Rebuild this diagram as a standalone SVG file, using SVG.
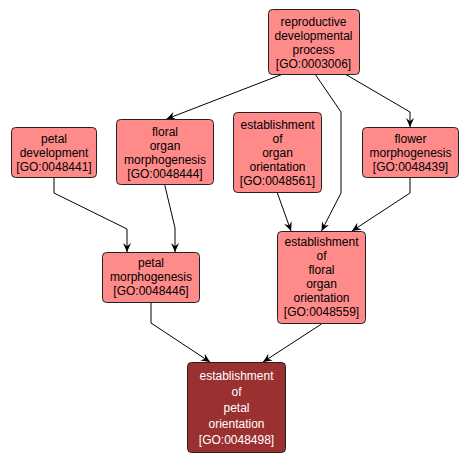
<svg xmlns="http://www.w3.org/2000/svg" width="469" height="463" viewBox="0 0 469 463">
<defs>
<style>
.n rect{fill:#ff8a8a;stroke:#222;stroke-width:1}
.n.d rect{fill:#9b3030}
.n text{font-family:"Liberation Sans",Arial,sans-serif;font-size:12px;text-anchor:middle;fill:#000}
.n.d text{fill:#fff}
.e path{fill:none;stroke:#000;stroke-width:1;marker-end:url(#a)}
</style>
<marker id="a" viewBox="0 0 10 10" refX="10" refY="5" markerWidth="9" markerHeight="9" markerUnits="userSpaceOnUse" orient="auto">
<path d="M0,0.5 L10,5 L0,9.5 L3.5,5 z" fill="#000"/>
</marker>
</defs>
<rect width="469" height="463" fill="#fff"/>
<g id="edges" class="e">
<path d="M283,74 L166.5,119"/>
<path d="M315,74 L341,112 L341,193 L321.5,231"/>
<path d="M345,74 L410,112 L410,127"/>
<path d="M410,177 L410,193 L352,231"/>
<path d="M277,192 L291,231"/>
<path d="M54,177 L54,193 L127,229 L127,252"/>
<path d="M164.5,184 L175,228 L175,252"/>
<path d="M151,302 L151,323 L210,362"/>
<path d="M321.5,324 L263,362"/>
</g>
<g id="GO0003006" class="n">
<rect x="268.5" y="9.5" width="91" height="65" rx="4"/>
<text x="313.5" y="26">reproductive</text>
<text x="313.5" y="40">developmental</text>
<text x="313.5" y="54">process</text>
<text x="313.5" y="68">[GO:0003006]</text>
</g>
<g id="GO0048444" class="n">
<rect x="116.5" y="119.5" width="97" height="65" rx="4"/>
<text x="165" y="136">floral</text>
<text x="165" y="150">organ</text>
<text x="165" y="164">morphogenesis</text>
<text x="165" y="178">[GO:0048444]</text>
</g>
<g id="GO0048561" class="n">
<rect x="233.5" y="112.5" width="88" height="80" rx="4"/>
<text x="277.5" y="129">establishment</text>
<text x="277.5" y="143">of</text>
<text x="277.5" y="157">organ</text>
<text x="277.5" y="171">orientation</text>
<text x="277.5" y="185">[GO:0048561]</text>
</g>
<g id="GO0048439" class="n">
<rect x="362.5" y="127.5" width="96" height="50" rx="4"/>
<text x="410.5" y="143">flower</text>
<text x="410.5" y="157">morphogenesis</text>
<text x="410.5" y="171">[GO:0048439]</text>
</g>
<g id="GO0048441" class="n">
<rect x="11.5" y="127.5" width="85" height="50" rx="4"/>
<text x="54" y="143">petal</text>
<text x="54" y="157">development</text>
<text x="54" y="171">[GO:0048441]</text>
</g>
<g id="GO0048559" class="n">
<rect x="277.5" y="231.5" width="88" height="92" rx="4"/>
<text x="321.5" y="246">establishment</text>
<text x="321.5" y="260">of</text>
<text x="321.5" y="274">floral</text>
<text x="321.5" y="288">organ</text>
<text x="321.5" y="302">orientation</text>
<text x="321.5" y="316">[GO:0048559]</text>
</g>
<g id="GO0048446" class="n">
<rect x="102.5" y="252.5" width="97" height="50" rx="4"/>
<text x="151" y="267">petal</text>
<text x="151" y="281">morphogenesis</text>
<text x="151" y="295">[GO:0048446]</text>
</g>
<g id="GO0048498" class="n d">
<rect x="187.5" y="362.5" width="98" height="90" rx="4"/>
<text x="236.5" y="380">establishment</text>
<text x="236.5" y="396">of</text>
<text x="236.5" y="412">petal</text>
<text x="236.5" y="428">orientation</text>
<text x="236.5" y="444">[GO:0048498]</text>
</g>
</svg>
